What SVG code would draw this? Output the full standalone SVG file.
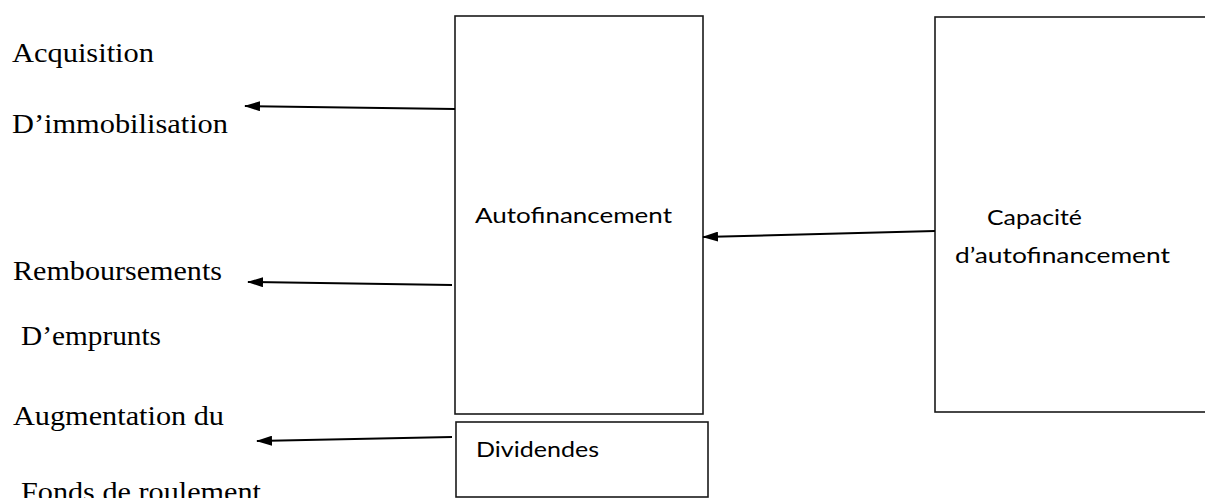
<svg xmlns="http://www.w3.org/2000/svg" width="1205" height="498" viewBox="0 0 1205 498">
<style>
.box{fill:none;stroke:#1a1a1a;stroke-width:1.6}
.tr{font-family:"Liberation Serif","Times New Roman",serif;font-size:28px;fill:#000}
.ca{font-family:Lato,"Liberation Sans",sans-serif;font-size:22px;fill:#000}
.conn{stroke:#000;stroke-width:2;fill:none;marker-end:url(#ah)}
</style>
<defs>
<marker id="ah" viewBox="0 0 16 10" refX="15" refY="5" markerWidth="16" markerHeight="10" markerUnits="userSpaceOnUse" orient="auto">
<path d="M0,0 L16,5 L0,10 Z" fill="#000"/>
</marker>
</defs>
<rect width="1205" height="498" fill="#fff"/>
<g id="labels-left">
<text class="tr" x="12" y="62" textLength="142" lengthAdjust="spacingAndGlyphs">Acquisition</text>
<text class="tr" x="12" y="133" textLength="216" lengthAdjust="spacingAndGlyphs">D’immobilisation</text>
<text class="tr" x="13" y="280" textLength="209" lengthAdjust="spacingAndGlyphs">Remboursements</text>
<text class="tr" x="21" y="345" textLength="140" lengthAdjust="spacingAndGlyphs">D’emprunts</text>
<text class="tr" x="13" y="425" textLength="211" lengthAdjust="spacingAndGlyphs">Augmentation du</text>
<text class="tr" x="21" y="501" textLength="240" lengthAdjust="spacingAndGlyphs">Fonds de roulement</text>
</g>
<g id="autofinancement">
<rect class="box" x="455" y="16" width="248" height="398"/>
<text class="ca" x="475" y="223" textLength="197" lengthAdjust="spacingAndGlyphs">Autofinancement</text>
</g>
<g id="dividendes">
<rect class="box" x="456" y="422" width="252" height="75"/>
<text class="ca" x="476" y="457" textLength="123" lengthAdjust="spacingAndGlyphs">Dividendes</text>
</g>
<g id="caf">
<rect class="box" x="935" y="17" width="290" height="395"/>
<text class="ca" x="987" y="225" textLength="95" lengthAdjust="spacingAndGlyphs">Capacité</text>
<text class="ca" x="955" y="263" textLength="215" lengthAdjust="spacingAndGlyphs">d’autofinancement</text>
</g>
<g id="connectors">
<line class="conn" x1="455" y1="109" x2="245" y2="106"/>
<line class="conn" x1="452" y1="285" x2="248" y2="282"/>
<line class="conn" x1="452" y1="437" x2="257" y2="441"/>
<line class="conn" x1="935" y1="231" x2="703" y2="237"/>
</g>
</svg>
